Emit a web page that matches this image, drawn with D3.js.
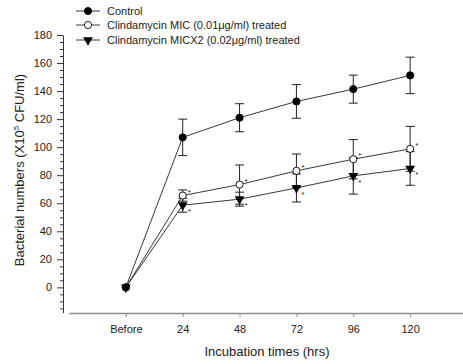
<!DOCTYPE html>
<html>
<head>
<meta charset="utf-8">
<script src="https://cdn.jsdelivr.net/npm/d3@7"></script>
<style>
  body { margin: 0; background: #fff; }
  svg text { font-family: "Liberation Sans", Arial, sans-serif; fill: #222; }
</style>
</head>
<body>
<div id="chart"></div>
<script>
const categories = ['Before', '24', '48', '72', '96', '120'];
const yTicks = [0, 20, 40, 60, 80, 100, 120, 140, 160, 180];

const control = [0, 107, 121, 132.6, 141.4, 151.2];
const controlErr = [0, 13, 10, 12, 10, 13];
const mic = [0, 65.5, 73.3, 83.1, 91.4, 98.8];
const micErr = [0, 4, 14, 12, 14, 16];
const micx2 = [0, 58.6, 62.9, 70.9, 79.5, 84.8];
const micx2Err = [0, 5, 5, 10, 13, 12];

const seriesNames = ['Control', 'Clindamycin MIC (0.01\u03bcg/ml) treated', 'Clindamycin MICX2 (0.02\u03bcg/ml) treated'];

const width = 463, height = 364;

const svg = d3.select('#chart')
  .append('svg')
  .attr('width', width)
  .attr('height', height);

const xScale = d3.scalePoint()
  .domain([''].concat(categories).concat([' ']))
  .range([69, 467]);

const yScale = d3.scaleLinear()
  .domain([-18, 180])
  .range([312.6, 35]);

// y axis, major + minor ticks
const axisX = 63;
const minorTicks = d3.range(-15, 180, 5).filter(v => v % 20 !== 0);

svg.append('g')
  .attr('transform', `translate(${axisX},0)`)
  .call(d3.axisLeft(yScale).tickValues(minorTicks).tickSize(3).tickFormat(''))
  .call(g => g.select('.domain').remove())
  .call(g => g.selectAll('line').attr('stroke', '#333'));

const yAxisG = svg.append('g')
  .attr('transform', `translate(${axisX},0)`)
  .call(d3.axisLeft(yScale).tickValues(yTicks).tickSize(6).tickSizeOuter(0).tickPadding(5));
yAxisG.select('.domain').attr('stroke', '#333');
yAxisG.selectAll('line').attr('stroke', '#333');
yAxisG.selectAll('text').style('font-size', '11px').attr('fill', '#333');

// x axis
const xAxisG = svg.append('g')
  .attr('transform', `translate(0,313)`)
  .call(d3.axisBottom(xScale).tickValues(categories).tickSize(4).tickSizeOuter(0).tickPadding(8));
xAxisG.select('.domain').attr('stroke', '#8a8a8a').attr('stroke-width', 1.6);
xAxisG.selectAll('line').attr('stroke', '#8a8a8a');
xAxisG.selectAll('text').style('font-size', '11px').attr('fill', '#333');

// axis titles
svg.append('text')
  .attr('x', 267)
  .attr('y', 356)
  .attr('text-anchor', 'middle')
  .style('font-size', '13px')
  .text('Incubation times (hrs)');

const yTitle = svg.append('text')
  .attr('transform', 'translate(24,170) rotate(-90)')
  .attr('text-anchor', 'middle')
  .style('font-size', '13px');
yTitle.append('tspan').text('Bacterial numbers (X10');
yTitle.append('tspan').attr('dy', -5).style('font-size', '8px').text('5');
yTitle.append('tspan').attr('dy', 5).text(' CFU/ml)');

// series
const series = [
  { name: seriesNames[0], values: control, err: controlErr, marker: 'filled', star: 0 },
  { name: seriesNames[1], values: mic, err: micErr, marker: 'open', star: -1 },
  { name: seriesNames[2], values: micx2, err: micx2Err, marker: 'triangle', star: 1 }
];

const line = d3.line()
  .x((d, i) => xScale(categories[i]))
  .y(d => yScale(d));

const triangle = d3.symbol().type(d3.symbolTriangle).size(42);

function drawMarker(g, type, x, y) {
  if (type === 'triangle') {
    g.append('path')
      .attr('d', triangle())
      .attr('transform', `translate(${x},${y}) rotate(180)`)
      .attr('fill', '#000');
  } else {
    g.append('circle')
      .attr('cx', x)
      .attr('cy', y)
      .attr('r', 3.6)
      .attr('fill', type === 'open' ? '#fff' : '#000')
      .attr('stroke', '#000')
      .attr('stroke-width', 0.9);
  }
}

series.forEach(s => {
  svg.append('path')
    .datum(s.values)
    .attr('d', line)
    .attr('fill', 'none')
    .attr('stroke', '#222')
    .attr('stroke-width', 0.9);
});

series.forEach(s => {
  const g = svg.append('g').attr('stroke', '#222').attr('stroke-width', 1);
  s.values.forEach((v, i) => {
    if (!s.err[i]) return;
    const x = xScale(categories[i]);
    const y1 = yScale(v + s.err[i]);
    const y2 = yScale(v - s.err[i]);
    g.append('line').attr('x1', x).attr('x2', x).attr('y1', y1).attr('y2', y2);
    g.append('line').attr('x1', x - 4.5).attr('x2', x + 4.5).attr('y1', y1).attr('y2', y1);
    g.append('line').attr('x1', x - 4.5).attr('x2', x + 4.5).attr('y1', y2).attr('y2', y2);
  });
});

// markers: draw treated first so the control dot sits on top at "Before"
[series[2], series[1], series[0]].forEach(s => {
  const g = svg.append('g');
  s.values.forEach((v, i) => drawMarker(g, s.marker, xScale(categories[i]), yScale(v)));
});

// significance asterisks
series.filter(s => s.star !== 0).forEach(s => {
  s.values.forEach((v, i) => {
    if (i === 0) return;
    svg.append('text')
      .attr('x', xScale(categories[i]) + 5)
      .attr('y', yScale(v) + (s.star < 0 ? -1 : 9))
      .style('font-size', '8px')
      .attr('fill', '#555')
      .text('*');
  });
});

// legend
const legend = svg.append('g');
const legendY = [11, 25, 40];
series.forEach((s, i) => {
  legend.append('line')
    .attr('x1', 76).attr('x2', 100)
    .attr('y1', legendY[i]).attr('y2', legendY[i])
    .attr('stroke', '#222').attr('stroke-width', 0.9);
  drawMarker(legend, s.marker, 88, legendY[i]);
  legend.append('text')
    .attr('x', 107)
    .attr('y', legendY[i] + 4)
    .style('font-size', '11px')
    .text(s.name);
});
</script>
</body>
</html>
